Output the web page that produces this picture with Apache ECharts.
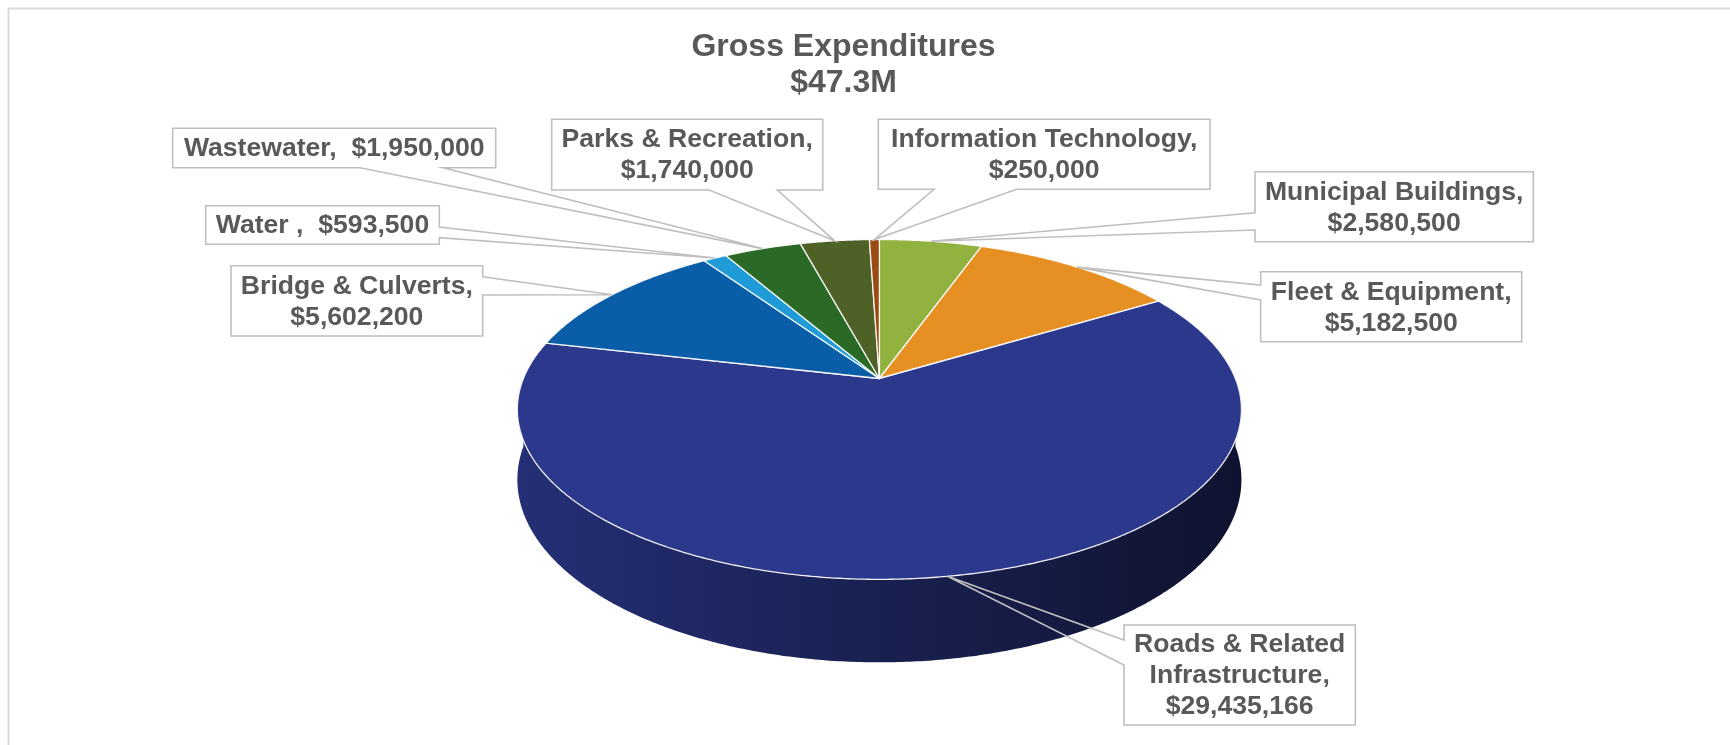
<!DOCTYPE html>
<html>
<head>
<meta charset="utf-8">
<title>Gross Expenditures</title>
<script src="https://cdn.jsdelivr.net/npm/echarts@6/dist/echarts.min.js"></script>
<style>
  html, body { margin: 0; padding: 0; background: #ffffff; }
  #main { width: 1730px; height: 745px; }
</style>
</head>
<body>
<div id="main"></div>
<script>
// ---- data ----
const categories = [
  'Municipal Buildings',
  'Fleet & Equipment',
  'Roads & Related Infrastructure',
  'Bridge & Culverts',
  'Water ',
  'Wastewater',
  'Parks & Recreation',
  'Information Technology'
];
const amounts = [2580500, 5182500, 29435166, 5602200, 593500, 1950000, 1740000, 250000];
const sliceColors = ['#91B23F', '#E68F22', '#2C388C', '#0A5EA8', '#1F9BD7', '#2B6A26', '#4E6127', '#9A4A12'];
const titleText = 'Gross Expenditures';

// ---- geometry of the tilted pie (perspective projection of a disc) ----
const PIE = { cx: 879.4, cy: 378.5, a: 356, b: 164.3, k: 0.182, depth: 67.9 };

// angle in degrees, clockwise from 12 o'clock (back of the disc)
function project(deg) {
  const p = deg * Math.PI / 180;
  const x = Math.sin(p), z = -Math.cos(p);
  const w = 1 - PIE.k * z;
  return [PIE.cx + PIE.a * x / w, PIE.cy + PIE.b * z / w, PIE.depth / w];
}

const total = amounts.reduce((s, v) => s + v, 0);
const starts = [];
amounts.reduce((acc, v) => { starts.push(acc); return acc + v; }, 0);

function sliceRange(i, v) {
  const a0 = starts[i] / total * 360;
  return [a0, a0 + v / total * 360];
}

function shade(hex, f) {
  const n = parseInt(hex.slice(1), 16);
  const r = Math.round(((n >> 16) & 255) * f);
  const g = Math.round(((n >> 8) & 255) * f);
  const b = Math.round((n & 255) * f);
  return 'rgb(' + r + ',' + g + ',' + b + ')';
}

function formatMoney(v) {
  return '$' + String(Math.round(v)).replace(/\B(?=(\d{3})+(?!\d))/g, ',');
}

// ---- label callout layout: box [x, y, w, h], edge holding the pointer, pointer base ----
const labelLayout = [
  { box: [1255, 171.7, 278.3, 70], edge: 'left', base: [212.7, 230] },
  { box: [1260.7, 271.7, 261, 70], edge: 'left', base: [285, 300] },
  { box: [1124, 625, 231.3, 100], edge: 'left', base: [640, 665], wrap: 16 },
  { box: [231, 265.7, 251.7, 70.3], edge: 'right', base: [276.7, 295] },
  { box: [205.7, 205.7, 233.6, 38.6], edge: 'right', base: [227, 237.7], inline: true },
  { box: [172.7, 128.3, 323, 39.4], edge: 'bottom', base: [360, 443], inline: true },
  { box: [551.7, 119.3, 271, 70.7], edge: 'bottom', base: [709, 777.3] },
  { box: [878.3, 119.3, 331.7, 70], edge: 'bottom', base: [934, 1016.7] }
];

function wrapName(name, maxChars) {
  if (!maxChars) return name;
  const words = name.split(' ');
  const lines = [];
  let cur = '';
  words.forEach(w => {
    const t = cur ? cur + ' ' + w : w;
    if (t.length > maxChars && cur) { lines.push(cur); cur = w; } else { cur = t; }
  });
  lines.push(cur);
  return lines.join('\n');
}

function calloutPoints(L, anchor) {
  const [x, y, w, h] = L.box;
  const r = x + w, btm = y + h;
  const pts = [[x, y], [r, y]];
  if (L.edge === 'right') pts.push([r, L.base[0]], anchor, [r, L.base[1]]);
  pts.push([r, btm]);
  if (L.edge === 'bottom') pts.push([L.base[1], btm], anchor, [L.base[0], btm]);
  pts.push([x, btm]);
  if (L.edge === 'left') pts.push([x, L.base[1]], anchor, [x, L.base[0]]);
  return pts;
}

const seriesData = amounts.map((v, i) => ({ value: v, name: categories[i] }));

// side wall of the disc (front half only)
function renderWall(params, api) {
  const i = params.dataIndex;
  const [a0, a1] = sliceRange(i, api.value(0));
  const lo = Math.max(a0, 90), hi = Math.min(a1, 270);
  if (hi <= lo) return { type: 'group', children: [] };
  const top = [], bot = [];
  const n = Math.max(2, Math.ceil((hi - lo) / 0.5));
  for (let j = 0; j <= n; j++) {
    const p = project(lo + (hi - lo) * j / n);
    top.push([p[0], p[1]]);
    bot.push([p[0], p[1] + p[2]]);
  }
  const c = sliceColors[i];
  return {
    type: 'polygon',
    silent: true,
    shape: { points: top.concat(bot.reverse()) },
    style: {
      fill: {
        type: 'linear', global: true,
        x: PIE.cx - PIE.a * 1.02, y: 0, x2: PIE.cx + PIE.a * 1.02, y2: 0,
        colorStops: [
          { offset: 0, color: shade(c, 0.84) },
          { offset: 0.45, color: shade(c, 0.6) },
          { offset: 0.75, color: shade(c, 0.46) },
          { offset: 1, color: shade(c, 0.34) }
        ]
      },
      stroke: null
    }
  };
}

// top face of each slice
function renderTop(params, api) {
  const i = params.dataIndex;
  const [a0, a1] = sliceRange(i, api.value(0));
  const pts = [[PIE.cx, PIE.cy]];
  const n = Math.max(2, Math.ceil((a1 - a0) / 0.5));
  for (let j = 0; j <= n; j++) {
    const p = project(a0 + (a1 - a0) * j / n);
    pts.push([p[0], p[1]]);
  }
  return {
    type: 'polygon',
    silent: true,
    shape: { points: pts },
    style: { fill: sliceColors[i], stroke: 'rgba(255,255,255,0.9)', lineWidth: 1.3, lineJoin: 'round' }
  };
}

// callout labels with pointers to the rim of each slice
function renderLabel(params, api) {
  const i = params.dataIndex;
  const v = api.value(0);
  const [a0, a1] = sliceRange(i, v);
  const p = project((a0 + a1) / 2);
  const anchor = [p[0], p[1]];
  const L = labelLayout[i];
  const name = wrapName(categories[i], L.wrap);
  const text = name + ',' + (L.inline ? '  ' : '\n') + formatMoney(v);
  const [x, y, w, h] = L.box;
  return {
    type: 'group',
    silent: true,
    children: [
      {
        type: 'polygon',
        shape: { points: calloutPoints(L, anchor) },
        style: { fill: 'none', stroke: '#BFBFBF', lineWidth: 1.6, lineJoin: 'miter' }
      },
      {
        type: 'text',
        x: x + w / 2,
        y: y + h / 2 + 1,
        style: {
          text: text,
          font: 'bold 26.6px "Liberation Sans", Arial, sans-serif',
          fill: '#595959',
          align: 'center',
          verticalAlign: 'middle',
          lineHeight: 31
        }
      }
    ]
  };
}

const chart = echarts.init(document.getElementById('main'), null, { renderer: 'canvas' });
chart.setOption({
  animation: false,
  backgroundColor: '#ffffff',
  graphic: [
    {
      type: 'rect', silent: true,
      shape: { x: 8.5, y: 8.5, width: 1740, height: 760 },
      style: { fill: 'none', stroke: '#D9D9D9', lineWidth: 2 }
    },
    {
      type: 'text', silent: true,
      x: 843.5, y: 65,
      style: {
        text: titleText + '\n$' + (total / 1e6).toFixed(1) + 'M',
        font: 'bold 32px "Liberation Sans", Arial, sans-serif',
        fill: '#595959',
        align: 'center',
        verticalAlign: 'middle',
        lineHeight: 36.6
      }
    }
  ],
  series: [
    { type: 'custom', name: 'wall', coordinateSystem: 'none', z: 1, data: seriesData, renderItem: renderWall },
    { type: 'custom', name: 'top', coordinateSystem: 'none', z: 2, data: seriesData, renderItem: renderTop },
    { type: 'custom', name: 'labels', coordinateSystem: 'none', z: 3, data: seriesData, renderItem: renderLabel }
  ]
});
</script>
</body>
</html>
